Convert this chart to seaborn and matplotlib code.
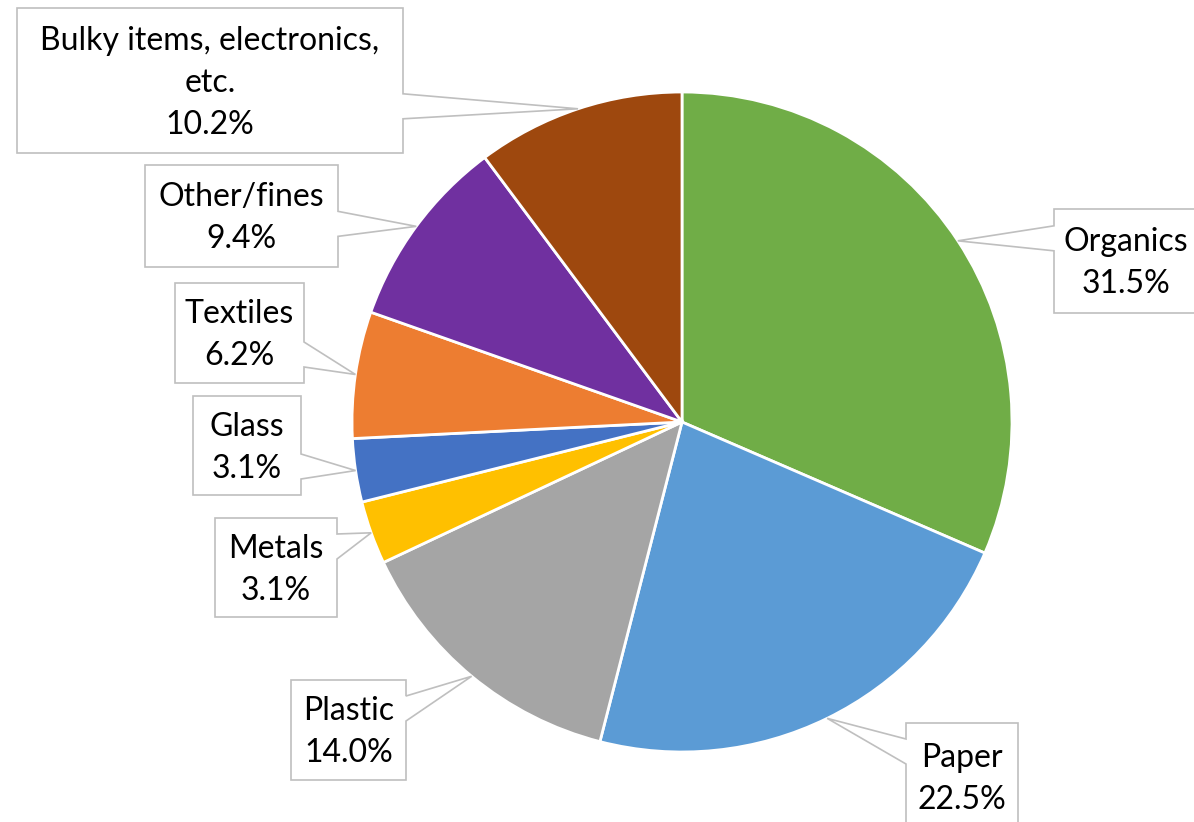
import numpy as np
import matplotlib
matplotlib.use("Agg")
import matplotlib.pyplot as plt
from matplotlib.path import Path
from matplotlib.patches import PathPatch
import seaborn as sns

# waste composition, clockwise from 12 o'clock
categories = ["Organics", "Paper", "Plastic", "Metals", "Glass", "Textiles",
              "Other/fines", "Bulky items, electronics,\netc."]
shares = [31.5, 22.5, 14.0, 3.1, 3.1, 6.2, 9.4, 10.2]
colors = ["#70AD47", "#5B9BD5", "#A5A5A5", "#FFC000", "#4472C4", "#ED7D31",
          "#7030A0", "#9E480E"]

# callout boxes in pixels from the top-left corner: x0, y0, x1, y1
boxes = [(1054, 209, 1198, 313), (906, 723, 1018, 830), (291, 680, 406, 780),
         (215, 518, 337, 617), (193, 396, 301, 495), (175, 283, 304, 383),
         (145, 165, 338, 267), (17, 8, 403, 153)]
sides = ["left", "left", "right", "right", "right", "right", "right", "right"]

W, H = 1194, 822
sns.set_theme(style="white")
plt.rcParams["font.family"] = ["Lato", "DejaVu Sans"]

fig = plt.figure(figsize=(W / 100, H / 100), dpi=100)
ax = fig.add_axes([0, 0, 1, 1])
wedges, _ = ax.pie(shares, colors=colors, startangle=90, counterclock=False,
                   center=(682, H - 422), radius=330,
                   wedgeprops=dict(edgecolor="white", linewidth=2))
ax.set_xlim(0, W)
ax.set_ylim(0, H)
ax.set_aspect("equal")
ax.axis("off")

for w, name, val, (x0, y0, x1, y1), side in zip(wedges, categories, shares, boxes, sides):
    ang = np.deg2rad((w.theta1 + w.theta2) / 2)
    tx = w.center[0] + w.r * np.cos(ang)
    ty = w.center[1] + w.r * np.sin(ang)
    top, bot = H - y0, H - y1
    b_hi = min(ty + 15, top - 16)
    b_hi = max(b_hi, bot + 16 + 25)
    b_lo = b_hi - 25
    if side == "right":
        verts = [(x0, top), (x1, top), (x1, b_hi), (tx, ty), (x1, b_lo),
                 (x1, bot), (x0, bot), (x0, top)]
    else:
        verts = [(x0, top), (x1, top), (x1, bot), (x0, bot), (x0, b_lo),
                 (tx, ty), (x0, b_hi), (x0, top)]
    codes = [Path.MOVETO] + [Path.LINETO] * (len(verts) - 2) + [Path.CLOSEPOLY]
    ax.add_patch(PathPatch(Path(verts, codes), facecolor="white",
                           edgecolor="#BFBFBF", linewidth=1.2, zorder=3))
    ax.text((x0 + x1) / 2, (top + bot) / 2 - 2, f"{name}\n{val:.1f}%", ha="center",
            va="center", fontsize=23, linespacing=1.5, color="black", zorder=4)

fig.savefig("out.png", dpi=100)
